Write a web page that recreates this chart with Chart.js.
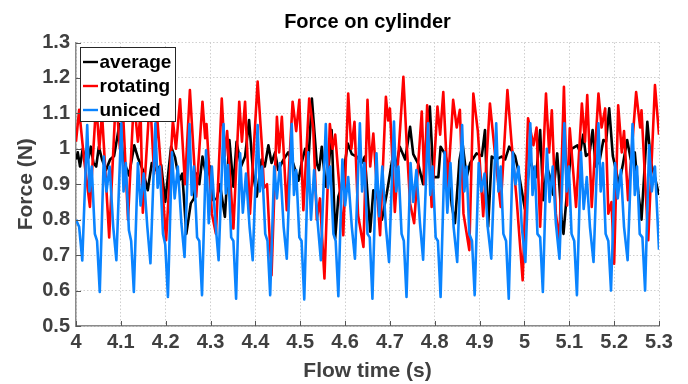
<!DOCTYPE html>
<html>
<head>
<meta charset="utf-8">
<title>Force on cylinder</title>
<script src="https://cdn.jsdelivr.net/npm/chart.js@4"></script>
<style>
  html, body { margin: 0; padding: 0; background: #fff; }
  #wrap { width: 688px; height: 384px; }
</style>
</head>
<body>
<div id="wrap"><canvas id="forceChart" width="688" height="384"></canvas></div>
<script>
// axis ticks
const xTicks = [4, 4.1, 4.2, 4.3, 4.4, 4.5, 4.6, 4.7, 4.8, 4.9, 5, 5.1, 5.2, 5.3];
const yTicks = [0.5, 0.6, 0.7, 0.8, 0.9, 1, 1.1, 1.2, 1.3];

const seriesNames = ['average', 'rotating', 'uniced'];

// average
const avgTime = [
  4.000, 4.004, 4.009, 4.015, 4.022, 4.028, 4.033, 4.039, 4.045, 4.051, 4.058, 4.067, 4.076, 4.085, 4.097,
  4.105, 4.111, 4.118, 4.130, 4.138, 4.149, 4.160, 4.169, 4.178, 4.190, 4.199, 4.212, 4.221, 4.230, 4.237,
  4.246, 4.256, 4.263, 4.268, 4.275, 4.282, 4.291, 4.299, 4.306, 4.314, 4.321, 4.332, 4.342, 4.351, 4.358,
  4.368, 4.377, 4.386, 4.395, 4.403, 4.414, 4.421, 4.429, 4.436, 4.444, 4.451, 4.462, 4.473, 4.484, 4.496,
  4.503, 4.511, 4.518, 4.526, 4.537, 4.542, 4.548, 4.557, 4.563, 4.570, 4.578, 4.585, 4.592, 4.606, 4.615,
  4.626, 4.637, 4.644, 4.656, 4.663, 4.673, 4.682, 4.693, 4.705, 4.714, 4.722, 4.734, 4.745, 4.752, 4.763,
  4.774, 4.783, 4.789, 4.797, 4.808, 4.813, 4.823, 4.830, 4.838, 4.845, 4.855, 4.862, 4.871, 4.879, 4.893,
  4.905, 4.912, 4.919, 4.927, 4.937, 4.949, 4.957, 4.966, 4.979, 4.986, 5.001, 5.012, 5.020, 5.026, 5.035,
  5.042, 5.050, 5.057, 5.064, 5.073, 5.083, 5.087, 5.095, 5.105, 5.118, 5.124, 5.131, 5.137, 5.145, 5.152,
  5.159, 5.168, 5.176, 5.182, 5.189, 5.197, 5.204, 5.211, 5.220, 5.229, 5.237, 5.246, 5.254, 5.261, 5.269,
  5.274, 5.282, 5.289, 5.300
];
const avgForce = [
  0.97, 0.99, 0.95, 1.0, 0.96, 0.975, 1.006, 0.96, 0.95, 1.006, 0.97, 0.94, 0.97, 0.98, 1.07,
  0.98, 0.95, 0.925, 1.01, 0.975, 0.94, 0.883, 0.96, 0.94, 0.954, 0.85, 1.006, 0.975, 0.91, 0.93,
  0.76, 0.846, 0.86, 0.93, 0.90, 0.978, 0.92, 0.95, 0.855, 0.86, 0.90, 0.808, 1.025, 0.893, 1.02,
  0.95, 0.978, 1.081, 0.93, 0.865, 0.97, 0.95, 1.01, 0.96, 0.99, 0.94, 0.968, 0.99, 0.96, 0.91,
  0.96, 1.0, 0.958, 1.142, 0.958, 0.94, 1.006, 0.893, 0.94, 1.053, 0.747, 0.865, 0.893, 1.015, 0.985,
  0.978, 0.96, 0.978, 0.766, 0.883, 0.86, 0.80, 0.874, 0.968, 0.95, 1.006, 0.97, 1.062, 0.985, 0.958,
  0.90, 1.06, 1.119, 0.92, 0.92, 1.006, 0.985, 0.95, 0.84, 0.79, 0.968, 1.015, 0.92, 0.96, 0.987,
  0.98, 1.053, 0.78, 0.978, 0.97, 0.978, 0.97, 1.006, 0.98, 0.94, 0.83, 0.97, 0.94, 0.92, 1.053,
  0.855, 0.95, 0.92, 0.87, 0.987, 0.80, 0.76, 0.88, 1.0, 1.01, 0.99, 1.04, 0.98, 0.987, 1.053,
  0.95, 0.97, 1.025, 1.02, 1.114, 0.98, 0.94, 0.90, 0.96, 1.025, 0.97, 0.99, 0.874, 0.80, 0.97,
  1.076, 0.96, 0.93, 0.87
];

// rotating
const rotTime = [
  4.000, 4.007, 4.018, 4.031, 4.045, 4.052, 4.058, 4.074, 4.089, 4.098, 4.105, 4.116, 4.129, 4.138, 4.144,
  4.149, 4.165, 4.174, 4.181, 4.201, 4.216, 4.223, 4.232, 4.243, 4.254, 4.268, 4.282, 4.288, 4.291, 4.303,
  4.312, 4.325, 4.332, 4.337, 4.351, 4.364, 4.370, 4.377, 4.388, 4.405, 4.415, 4.419, 4.426, 4.436, 4.448,
  4.453, 4.459, 4.470, 4.483, 4.491, 4.498, 4.507, 4.520, 4.529, 4.537, 4.544, 4.554, 4.566, 4.572, 4.578,
  4.596, 4.607, 4.614, 4.621, 4.629, 4.641, 4.650, 4.656, 4.663, 4.678, 4.691, 4.696, 4.700, 4.711, 4.730,
  4.738, 4.745, 4.754, 4.771, 4.777, 4.783, 4.793, 4.806, 4.812, 4.819, 4.829, 4.841, 4.849, 4.856, 4.864,
  4.877, 4.886, 4.896, 4.908, 4.923, 4.934, 4.947, 4.962, 4.971, 4.983, 4.996, 5.008, 5.020, 5.027, 5.035,
  5.048, 5.055, 5.061, 5.070, 5.078, 5.088, 5.095, 5.101, 5.115, 5.128, 5.135, 5.140, 5.150, 5.165, 5.172,
  5.180, 5.187, 5.194, 5.200, 5.209, 5.217, 5.222, 5.231, 5.249, 5.258, 5.261, 5.276, 5.291, 5.300
];
const rotForce = [
  1.02, 1.11, 0.97, 0.836, 1.13, 1.0, 1.10, 0.75, 1.15, 1.0, 1.10, 0.80, 1.14, 1.02, 1.10,
  0.82, 1.15, 0.93, 1.09, 0.742, 1.08, 1.0, 1.14, 0.90, 1.166, 0.865, 1.133, 1.03, 1.07, 0.817,
  0.76, 1.142, 0.98, 1.05, 0.775, 1.133, 1.02, 1.133, 0.817, 1.19, 1.0, 0.89, 0.90, 0.643, 1.09,
  0.99, 1.09, 0.827, 1.133, 1.05, 1.138, 0.827, 1.142, 1.058, 0.80, 0.86, 0.634, 1.07, 1.0, 1.04,
  0.756, 1.156, 1.0, 1.076, 0.813, 0.723, 1.138, 0.95, 1.043, 0.756, 1.147, 1.08, 1.114, 0.822, 1.203,
  1.0, 0.846, 0.79, 1.105, 0.90, 1.123, 0.836, 1.119, 1.04, 1.16, 0.893, 1.138, 1.06, 1.11, 0.817,
  0.714, 1.156, 1.05, 0.81, 1.128, 0.99, 0.836, 1.166, 1.02, 0.85, 0.629, 1.086, 1.01, 1.06, 0.78,
  1.156, 0.99, 1.109, 0.817, 0.742, 1.175, 0.84, 1.058, 0.836, 1.128, 1.02, 1.152, 0.836, 1.156, 1.06,
  1.114, 0.817, 0.85, 0.676, 1.123, 0.99, 1.05, 0.855, 1.16, 1.06, 1.109, 0.742, 1.18, 1.04
];

// uniced
const uniTime = [
  4.000, 4.007, 4.014, 4.025, 4.030, 4.035, 4.042, 4.047,
  4.053, 4.062, 4.068, 4.075, 4.083, 4.090, 4.101, 4.106, 4.111, 4.118, 4.123,
  4.129, 4.138, 4.144, 4.151, 4.159, 4.166, 4.177, 4.182, 4.187, 4.194, 4.199,
  4.205, 4.214, 4.220, 4.227, 4.235, 4.242, 4.253, 4.258, 4.263, 4.270, 4.275,
  4.281, 4.290, 4.296, 4.303, 4.311, 4.318, 4.329, 4.334, 4.339, 4.346, 4.351,
  4.357, 4.366, 4.372, 4.379, 4.387, 4.394, 4.405, 4.410, 4.415, 4.422, 4.427,
  4.433, 4.442, 4.448, 4.455, 4.463, 4.470, 4.481, 4.486, 4.491, 4.498, 4.503,
  4.509, 4.518, 4.524, 4.531, 4.539, 4.546, 4.557, 4.562, 4.567, 4.574, 4.579,
  4.585, 4.594, 4.600, 4.607, 4.615, 4.622, 4.633, 4.638, 4.643, 4.650, 4.655,
  4.661, 4.670, 4.676, 4.683, 4.691, 4.698, 4.709, 4.714, 4.719, 4.726, 4.731,
  4.737, 4.746, 4.752, 4.759, 4.767, 4.774, 4.785, 4.790, 4.795, 4.802, 4.807,
  4.813, 4.822, 4.828, 4.835, 4.842, 4.850, 4.861, 4.866, 4.871, 4.877, 4.883,
  4.889, 4.898, 4.904, 4.911, 4.918, 4.926, 4.937, 4.942, 4.947, 4.953, 4.959,
  4.965, 4.974, 4.980, 4.987, 4.994, 5.002, 5.013, 5.018, 5.023, 5.029, 5.035,
  5.041, 5.050, 5.056, 5.063, 5.070, 5.078, 5.089, 5.094, 5.099, 5.105, 5.111,
  5.117, 5.126, 5.132, 5.139, 5.146, 5.154, 5.165, 5.170, 5.175, 5.181, 5.187,
  5.193, 5.202, 5.208, 5.215, 5.222, 5.230, 5.241, 5.246, 5.251, 5.257, 5.263,
  5.269, 5.278, 5.284, 5.291, 5.300
];
const uniForce = [
  0.80, 0.78, 0.685, 1.067, 0.88, 0.95, 0.76, 0.74,
  0.596, 0.978, 0.88, 0.95, 0.78, 0.686, 1.072, 0.88, 0.96, 0.77, 0.74,
  0.596, 0.96, 0.84, 0.93, 0.78, 0.677, 1.072, 0.89, 0.95, 0.76, 0.73,
  0.582, 0.99, 0.86, 0.95, 0.79, 0.695, 1.07, 0.87, 0.95, 0.75, 0.74,
  0.587, 0.996, 0.79, 0.95, 0.79, 0.686, 1.07, 0.874, 0.954, 0.75, 0.74,
  0.577, 0.987, 0.82, 0.93, 0.78, 0.686, 1.067, 0.88, 0.95, 0.76, 0.74,
  0.587, 0.95, 0.86, 0.96, 0.78, 0.69, 1.07, 0.87, 0.94, 0.75, 0.74,
  0.575, 0.99, 0.80, 0.94, 0.79, 0.686, 1.07, 0.89, 0.95, 0.76, 0.74,
  0.584, 0.97, 0.84, 0.92, 0.78, 0.69, 1.072, 0.88, 0.96, 0.76, 0.75,
  0.577, 0.987, 0.81, 0.95, 0.78, 0.681, 1.077, 0.88, 0.95, 0.76, 0.74,
  0.582, 0.96, 0.85, 0.94, 0.79, 0.687, 1.072, 0.87, 0.95, 0.75, 0.74,
  0.582, 0.99, 0.82, 0.96, 0.78, 0.681, 1.067, 0.88, 0.95, 0.76, 0.74,
  0.587, 0.96, 0.88, 0.93, 0.78, 0.69, 1.072, 0.88, 0.95, 0.76, 0.74,
  0.577, 0.99, 0.90, 0.95, 0.78, 0.681, 1.072, 0.87, 0.95, 0.76, 0.75,
  0.596, 1.0, 0.85, 0.95, 0.79, 0.69, 1.072, 0.88, 0.95, 0.76, 0.74,
  0.587, 0.99, 0.83, 0.92, 0.78, 0.681, 1.072, 0.88, 0.96, 0.76, 0.74,
  0.600, 0.96, 0.86, 0.94, 0.78, 0.686, 1.07, 0.87, 0.95, 0.76, 0.75,
  0.600, 1.01, 0.88, 0.95, 0.715
];

const lineColors = ['#000000', '#ff0000', '#0a84ff'];

function toPoints(times, values) {
  return times.map((t, i) => ({ x: t, y: values[i] }));
}

const FONT = "'Liberation Sans', Arial, Helvetica, sans-serif";
Chart.defaults.font.family = FONT;

// title over the axes, inward tick marks, and the boxed legend inside the axes
const axesDecor = {
  id: 'axesDecor',
  afterDraw(chart) {
    const ctx = chart.ctx;
    const area = chart.chartArea;
    const xs = chart.scales.x, ys = chart.scales.y;
    ctx.save();

    ctx.fillStyle = '#000000';
    ctx.font = 'bold 20px ' + FONT;
    ctx.textAlign = 'center';
    ctx.textBaseline = 'middle';
    ctx.fillText('Force on cylinder', (area.left + area.right) / 2, 22);

    ctx.strokeStyle = '#555555';
    ctx.lineWidth = 1;
    ctx.beginPath();
    xTicks.forEach(v => {
      const px = Math.round(xs.getPixelForValue(v)) + 0.5;
      ctx.moveTo(px, area.bottom);
      ctx.lineTo(px, area.bottom - 5);
    });
    yTicks.forEach(v => {
      const py = Math.round(ys.getPixelForValue(v)) + 0.5;
      ctx.moveTo(area.left, py);
      ctx.lineTo(area.left + 5, py);
    });
    ctx.stroke();

    const left = 80.5, top = 47.5, w = 95, h = 74;
    ctx.fillStyle = '#ffffff';
    ctx.fillRect(left, top, w, h);
    ctx.strokeStyle = '#262626';
    ctx.lineWidth = 1;
    ctx.strokeRect(left, top, w, h);
    ctx.font = 'bold 19px ' + FONT;
    ctx.textAlign = 'left';
    seriesNames.forEach((name, i) => {
      const y = 62 + i * 24;
      ctx.strokeStyle = lineColors[i];
      ctx.lineWidth = 2.4;
      ctx.beginPath();
      ctx.moveTo(83, y);
      ctx.lineTo(98, y);
      ctx.stroke();
      ctx.fillStyle = '#000000';
      ctx.fillText(name, 99.5, y + 1);
    });
    ctx.restore();
  }
};

const tickText = v => String(Math.round(v * 10) / 10);

new Chart(document.getElementById('forceChart').getContext('2d'), {
  type: 'line',
  data: {
    datasets: [
      { label: seriesNames[0], data: toPoints(avgTime, avgForce), borderColor: lineColors[0], order: 2 },
      { label: seriesNames[1], data: toPoints(rotTime, rotForce), borderColor: lineColors[1], order: 1 },
      { label: seriesNames[2], data: toPoints(uniTime, uniForce), borderColor: lineColors[2], order: 0 }
    ]
  },
  options: {
    responsive: false,
    animation: false,
    devicePixelRatio: 1,
    layout: { padding: { left: 0, right: 29, top: 42.5, bottom: 0 } },
    elements: {
      line: { borderWidth: 2.6, tension: 0, fill: false, borderJoinStyle: 'round' },
      point: { radius: 0, hoverRadius: 0 }
    },
    scales: {
      x: {
        type: 'linear',
        min: 4,
        max: 5.3,
        afterBuildTicks: s => { s.ticks = xTicks.map(v => ({ value: v })); },
        afterFit: s => { s.height = 58; },
        ticks: {
          callback: tickText,
          color: '#404040',
          font: { size: 20, weight: 'bold' },
          padding: 4,
          maxRotation: 0,
          autoSkip: false
        },
        grid: { color: '#cfcfcf', lineWidth: 1, drawTicks: false },
        border: { display: true, color: '#8a8a8a', width: 1.5, dash: [1.5, 2] },
        title: {
          display: true,
          text: 'Flow time (s)',
          color: '#404040',
          font: { size: 21, weight: 'bold' },
          padding: { top: 0, bottom: 0 }
        }
      },
      y: {
        min: 0.5,
        max: 1.3,
        afterBuildTicks: s => { s.ticks = yTicks.map(v => ({ value: v })); },
        afterFit: s => { s.width = 76; },
        ticks: {
          callback: tickText,
          color: '#404040',
          font: { size: 20, weight: 'bold' },
          padding: 6
        },
        grid: { color: '#cfcfcf', lineWidth: 1, drawTicks: false },
        border: { display: true, color: '#8a8a8a', width: 1.5, dash: [1.5, 2] },
        title: {
          display: true,
          text: 'Force (N)',
          color: '#404040',
          font: { size: 21, weight: 'bold' },
          padding: 14
        }
      }
    },
    plugins: {
      legend: { display: false },
      tooltip: { enabled: false },
      title: { display: false }
    }
  },
  plugins: [axesDecor]
});
</script>
</body>
</html>
